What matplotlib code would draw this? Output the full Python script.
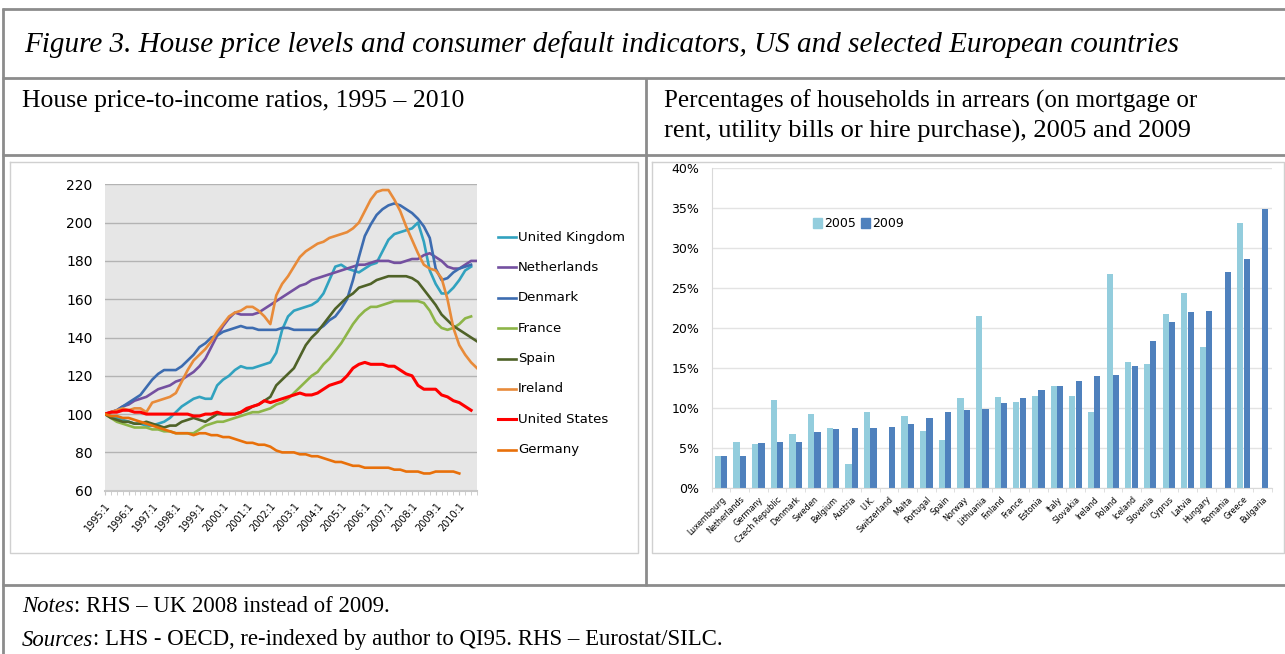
import numpy as np
import matplotlib
matplotlib.use("Agg")
import matplotlib.pyplot as plt
from matplotlib.patches import Patch

W, H = 1285, 654

# left panel: house price-to-income ratios, quarterly, 1995:1 = 100
year_labels = ['1995:1', '1996:1', '1997:1', '1998:1', '1999:1', '2000:1',
               '2001:1', '2002:1', '2003:1', '2004:1', '2005:1', '2006:1',
               '2007:1', '2008:1', '2009:1', '2010:1']

united_kingdom = [100, 99, 98, 97, 96, 95, 95, 94,
                  94, 95, 96, 98, 101, 104, 106, 108,
                  109, 108, 108, 115, 118, 120, 123, 125,
                  124, 124, 125, 126, 127, 132, 144, 151,
                  154, 155, 156, 157, 159, 163, 170, 177,
                  178, 176, 175, 174, 176, 178, 179, 185,
                  191, 194, 195, 196, 197, 200, 190, 175,
                  168, 163, 163, 166, 170, 175, 177]
netherlands = [100, 101, 102, 104, 105, 107, 108, 109,
               111, 113, 114, 115, 117, 118, 120, 122,
               125, 129, 135, 141, 146, 150, 153, 152,
               152, 152, 153, 155, 157, 159, 161, 163,
               165, 167, 168, 170, 171, 172, 173, 174,
               175, 176, 177, 178, 178, 179, 180, 180,
               180, 179, 179, 180, 181, 181, 183, 184,
               182, 180, 177, 176, 176, 178, 180, 180]
denmark = [100, 101, 102, 104, 106, 108, 110, 114,
           118, 121, 123, 123, 123, 125, 128, 131,
           135, 137, 140, 141, 143, 144, 145, 146,
           145, 145, 144, 144, 144, 144, 145, 145,
           144, 144, 144, 144, 144, 146, 149, 151,
           155, 160, 170, 182, 193, 199, 204, 207,
           209, 210, 209, 207, 205, 202, 198, 192,
           176, 170, 171, 174, 176, 177, 178]
france = [100, 98, 96, 95, 94, 93, 93, 93,
          92, 92, 91, 91, 90, 90, 90, 90,
          92, 94, 95, 96, 96, 97, 98, 99,
          100, 101, 101, 102, 103, 105, 106, 108,
          111, 114, 117, 120, 122, 126, 129, 133,
          137, 142, 147, 151, 154, 156, 156, 157,
          158, 159, 159, 159, 159, 159, 158, 154,
          148, 145, 144, 145, 147, 150, 151]
spain = [100, 98, 97, 96, 96, 95, 95, 96,
         95, 94, 93, 94, 94, 96, 97, 98,
         97, 96, 98, 100, 100, 100, 100, 101,
         102, 104, 105, 107, 109, 115, 118, 121,
         124, 130, 136, 140, 143, 147, 151, 155,
         158, 161, 163, 166, 167, 168, 170, 171,
         172, 172, 172, 172, 171, 169, 165, 161,
         157, 152, 149, 146, 144, 142, 140, 138]
ireland = [100, 101, 102, 103, 102, 103, 103, 101,
           106, 107, 108, 109, 111, 117, 123, 128,
           131, 134, 138, 143, 147, 151, 153, 154,
           156, 156, 154, 151, 147, 162, 168, 172,
           177, 182, 185, 187, 189, 190, 192, 193,
           194, 195, 197, 200, 206, 212, 216, 217,
           217, 212, 206, 198, 191, 184, 178, 176,
           175, 171, 160, 145, 136, 131, 127, 124]
united_states = [100, 101, 101, 102, 102, 101, 101, 100,
                 100, 100, 100, 100, 100, 100, 100, 99,
                 99, 100, 100, 101, 100, 100, 100, 101,
                 103, 104, 105, 107, 106, 107, 108, 109,
                 110, 111, 110, 110, 111, 113, 115, 116,
                 117, 120, 124, 126, 127, 126, 126, 126,
                 125, 125, 123, 121, 120, 115, 113, 113,
                 113, 110, 109, 107, 106, 104, 102]
germany = [100, 99, 99, 98, 98, 97, 96, 95,
           94, 93, 92, 91, 90, 90, 90, 89,
           90, 90, 89, 89, 88, 88, 87, 86,
           85, 85, 84, 84, 83, 81, 80, 80,
           80, 79, 79, 78, 78, 77, 76, 75,
           75, 74, 73, 73, 72, 72, 72, 72,
           72, 71, 71, 70, 70, 70, 69, 69,
           70, 70, 70, 70, 69]

series_names = ['United Kingdom', 'Netherlands', 'Denmark', 'France',
                'Spain', 'Ireland', 'United States', 'Germany']
series_values = [united_kingdom, netherlands, denmark, france,
                 spain, ireland, united_states, germany]
series_colors = ['#31A2BF', '#7450A0', '#3D6CB0', '#8DB548',
                 '#4F6228', '#E88B3A', '#FF0000', '#E8700A']

# right panel: households in arrears, % (nan = no data)
countries = ['Luxembourg', 'Netherlands', 'Germany', 'Czech Republic', 'Denmark',
             'Sweden', 'Belgium', 'Austria', 'U.K.', 'Switzerland', 'Malta',
             'Portugal', 'Spain', 'Norway', 'Lithuania', 'Finland', 'France',
             'Estonia', 'Italy', 'Slovakia', 'Ireland', 'Poland', 'Iceland',
             'Slovenia', 'Cyprus', 'Latvia', 'Hungary', 'Romania', 'Greece',
             'Bulgaria']
arrears_2005 = [4.0, 5.75, 5.5, 11.0, 6.75, 9.25, 7.5, 3.0, 9.5, np.nan, 9.0,
                7.1, 6.0, 11.2, 21.5, 11.4, 10.75, 11.5, 12.75, 11.5, 9.5,
                26.75, 15.75, 15.5, 21.8, 24.4, 17.6, np.nan, 33.2, np.nan]
arrears_2009 = [4.0, 4.0, 5.6, 5.8, 5.8, 7.0, 7.4, 7.5, 7.5, 7.6, 8.0,
                8.75, 9.5, 9.7, 9.9, 10.6, 11.2, 12.2, 12.7, 13.4, 14.0,
                14.1, 15.25, 18.4, 20.75, 22.0, 22.2, 27.0, 28.7, 34.9]

plt.rcParams['font.family'] = ['DejaVu Sans']
SERIF = 'Liberation Serif'
LINE = '#8C8C8C'

fig = plt.figure(figsize=(W / 100, H / 100), dpi=100)
bg = fig.add_axes([0, 0, 1, 1])
bg.set_xlim(0, W)
bg.set_ylim(H, 0)
bg.axis('off')
renderer = fig.canvas.get_renderer()


def px_axes(x0, y0, x1, y1):
    return fig.add_axes([x0 / W, 1 - y1 / H, (x1 - x0) / W, (y1 - y0) / H])


def fit_text(x, y, s, width, **kw):
    t = bg.text(x, y, s, fontsize=10, **kw)
    w = t.get_window_extent(renderer=renderer).width
    t.set_fontsize(10 * width / w)
    return t


def mixed_width(parts, size):
    tmp = [bg.text(0, 0, s, fontsize=size, style=st, family=SERIF) for s, st in parts]
    tot = sum(t.get_window_extent(renderer=renderer).width for t in tmp)
    for t in tmp:
        t.remove()
    return tot


def mixed_line(x, y, parts, size):
    for s, st in parts:
        t = bg.text(x, y, s, fontsize=size, style=st, family=SERIF, va='center')
        x += t.get_window_extent(renderer=renderer).width


def hline(y, x0, x1, color=LINE, lw=2.0):
    bg.plot([x0, x1], [y, y], color=color, lw=lw, solid_capstyle='butt')


def vline(x, y0, y1, color=LINE, lw=2.0):
    bg.plot([x, x], [y0, y1], color=color, lw=lw, solid_capstyle='butt')


# table frame
hline(9, 2, W)
hline(78, 2, W)
hline(155, 2, W)
hline(585, 2, W)
vline(3, 8, H)
vline(646, 78, 586)

# chart boxes
for x0, x1 in [(10, 638), (652, 1284)]:
    bg.plot([x0, x1, x1, x0, x0], [162, 162, 553, 553, 162], color='#D0D0D0', lw=1.0)

# texts
fit_text(24, 45, 'Figure 3. House price levels and consumer default indicators, '
         'US and selected European countries', 1155, family=SERIF, style='italic', va='center')
fit_text(22, 101, 'House price-to-income ratios, 1995 \u2013 2010', 441, family=SERIF, va='center')
fit_text(664, 101, 'Percentages of households in arrears (on mortgage or', 533,
         family=SERIF, va='center')
fit_text(664, 131, 'rent, utility bills or hire purchase), 2005 and 2009', 526,
         family=SERIF, va='center')

notes_parts = [('Notes', 'italic'), (': RHS \u2013 UK 2008 instead of 2009.', 'normal')]
sources_parts = [('Sources', 'italic'),
                 (': LHS - OECD, re-indexed by author to QI95. RHS \u2013 Eurostat/SILC.', 'normal')]
note_size = 10 * 700 / mixed_width(sources_parts, 10)
mixed_line(22, 607, notes_parts, note_size)
mixed_line(22, 640, sources_parts, note_size)

# ---- left chart ----
ax = px_axes(105, 184.3, 477, 490.7)
ax.set_facecolor('#E6E6E6')
for name, vals, col in zip(series_names, series_values, series_colors):
    lw = 2.2 if name == 'United States' else 1.9
    ax.plot(np.arange(len(vals)), vals, color=col, lw=lw, solid_joinstyle='round')
ax.set_xlim(0, 63)
ax.set_ylim(60, 220)
ax.set_yticks(np.arange(60, 221, 20))
ax.yaxis.grid(True, color='#B3B3B3', lw=1.0)
ax.set_axisbelow(True)
for s in ['top', 'right', 'left']:
    ax.spines[s].set_visible(False)
ax.spines['bottom'].set_color('#C8C8C8')
ax.spines['bottom'].set_linewidth(1.5)
ax.tick_params(axis='y', length=0, pad=9, labelsize=10)
ax.set_xticks(np.arange(0, 64, 4))
ax.set_xticklabels(year_labels, rotation=50, ha='right', va='top',
                   rotation_mode='anchor', fontsize=7)
ax.set_xticks(np.arange(64), minor=True)
ax.tick_params(axis='x', which='both', length=3, color='#C8C8C8', pad=4)

for i, (name, col) in enumerate(zip(series_names, series_colors)):
    y = 237 + 30.4 * i
    bg.plot([498, 516], [y, y], color=col, lw=2.2 if name == 'United States' else 1.9)
    bg.text(518, y, name, fontsize=9.5, va='center')

# ---- right chart ----
ax2 = px_axes(711.7, 168.3, 1271.5, 488)
x = np.arange(len(countries))
ax2.bar(x - 0.17, np.array(arrears_2005) / 100, width=0.33, color='#93CDDD', label='2005')
ax2.bar(x + 0.17, np.array(arrears_2009) / 100, width=0.33, color='#4F81BD', label='2009')
ax2.set_xlim(-0.5, len(countries) - 0.5)
ax2.set_ylim(0, 0.40)
ax2.set_yticks(np.arange(0, 0.401, 0.05))
ax2.set_yticklabels(['%d%%' % round(v * 100) for v in np.arange(0, 0.401, 0.05)])
ax2.yaxis.grid(True, color='#E3E3E3', lw=1.0)
ax2.set_axisbelow(True)
for s in ['top', 'right']:
    ax2.spines[s].set_visible(False)
ax2.spines['left'].set_color('#D9D9D9')
ax2.spines['bottom'].set_color('#D9D9D9')
ax2.tick_params(axis='y', length=0, pad=9, labelsize=9)
ax2.set_xticks(x)
ax2.set_xticklabels(countries, rotation=45, ha='right', va='top',
                    rotation_mode='anchor', fontsize=5.8)
ax2.set_xticks(np.arange(-0.5, len(countries)), minor=True)
ax2.tick_params(axis='x', which='major', length=0, pad=5)
ax2.tick_params(axis='x', which='minor', length=3, color='#D9D9D9')
ax2.legend(handles=[Patch(color='#93CDDD', label='2005'), Patch(color='#4F81BD', label='2009')],
           loc='center', bbox_to_anchor=(0.262, 0.826), ncol=2, frameon=False,
           fontsize=9, handlelength=0.7, handleheight=0.9, handletextpad=0.2,
           columnspacing=0.4)

fig.savefig('out.png', dpi=100, facecolor='white')
